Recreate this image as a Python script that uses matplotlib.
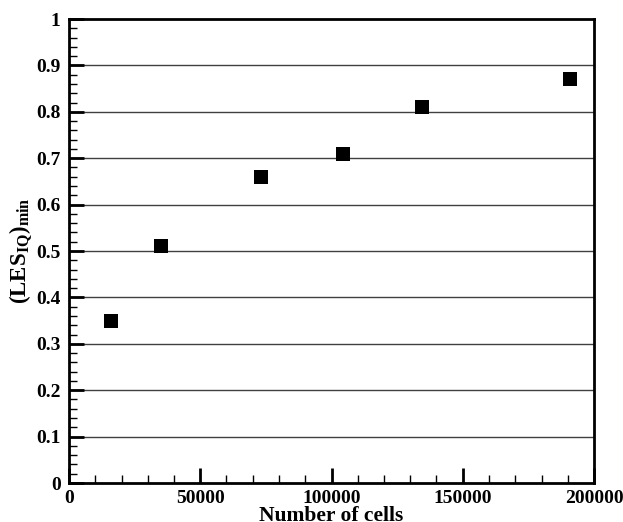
import matplotlib
matplotlib.use("Agg")
import matplotlib.pyplot as plt
from matplotlib.ticker import MultipleLocator

plt.rcParams['font.family'] = ['Liberation Serif', 'DejaVu Serif']
plt.rcParams['font.weight'] = 'bold'
plt.rcParams['mathtext.fontset'] = 'custom'
plt.rcParams['mathtext.rm'] = 'Liberation Serif:bold'
plt.rcParams['mathtext.it'] = 'Liberation Serif:bold'
plt.rcParams['mathtext.bf'] = 'Liberation Serif:bold'
plt.rcParams['mathtext.default'] = 'rm'

cells = [16000, 35000, 73000, 104300, 134500, 191000]
les_iq_min = [0.35, 0.51, 0.66, 0.71, 0.81, 0.87]

x_ticks = [0, 50000, 100000, 150000, 200000]
x_ticklabels = ['0', '50000', '100000', '150000', '200000']
y_ticks = [0, 0.1, 0.2, 0.3, 0.4, 0.5, 0.6, 0.7, 0.8, 0.9, 1.0]
y_ticklabels = ['0', '0.1', '0.2', '0.3', '0.4', '0.5', '0.6', '0.7', '0.8', '0.9', '1']

fig = plt.figure(figsize=(6.23, 5.22), dpi=100)
ax = fig.add_axes([69/623, 1-483/522, (594-69)/623, (483-19)/522])

for y in y_ticks[1:-1]:
    ax.axhline(y, color='0.25', lw=1.0, zorder=1)

ax.plot(cells, les_iq_min, linestyle='none', marker='s', color='black',
        markersize=9.4, markeredgewidth=0, zorder=3)

ax.set_xlim(0, 200000)
ax.set_ylim(0, 1)
ax.set_xticks(x_ticks)
ax.set_xticklabels(x_ticklabels)
ax.set_yticks(y_ticks)
ax.set_yticklabels(y_ticklabels)
ax.xaxis.set_minor_locator(MultipleLocator(10000))
ax.yaxis.set_minor_locator(MultipleLocator(0.02))

ax.tick_params(which='both', direction='in', top=False, right=False, labelsize=14, colors='black')
ax.tick_params(which='major', length=11, width=2)
ax.tick_params(which='minor', length=6, width=1)
ax.tick_params(axis='y', which='major', pad=6)
ax.tick_params(axis='x', which='major', pad=5)

for s in ax.spines.values():
    s.set_linewidth(2.0)
    s.set_color('black')

for lab in ax.get_xticklabels() + ax.get_yticklabels():
    lab.set_fontweight('bold')

ax.set_xlabel('Number of cells', fontsize=15.5, fontweight='bold', labelpad=-1)
ax.set_ylabel(r'$(\mathrm{LES}_{\mathrm{IQ}})_{\mathrm{min}}$', fontsize=16.5, labelpad=1)

fig.savefig('out.png', dpi=100)
